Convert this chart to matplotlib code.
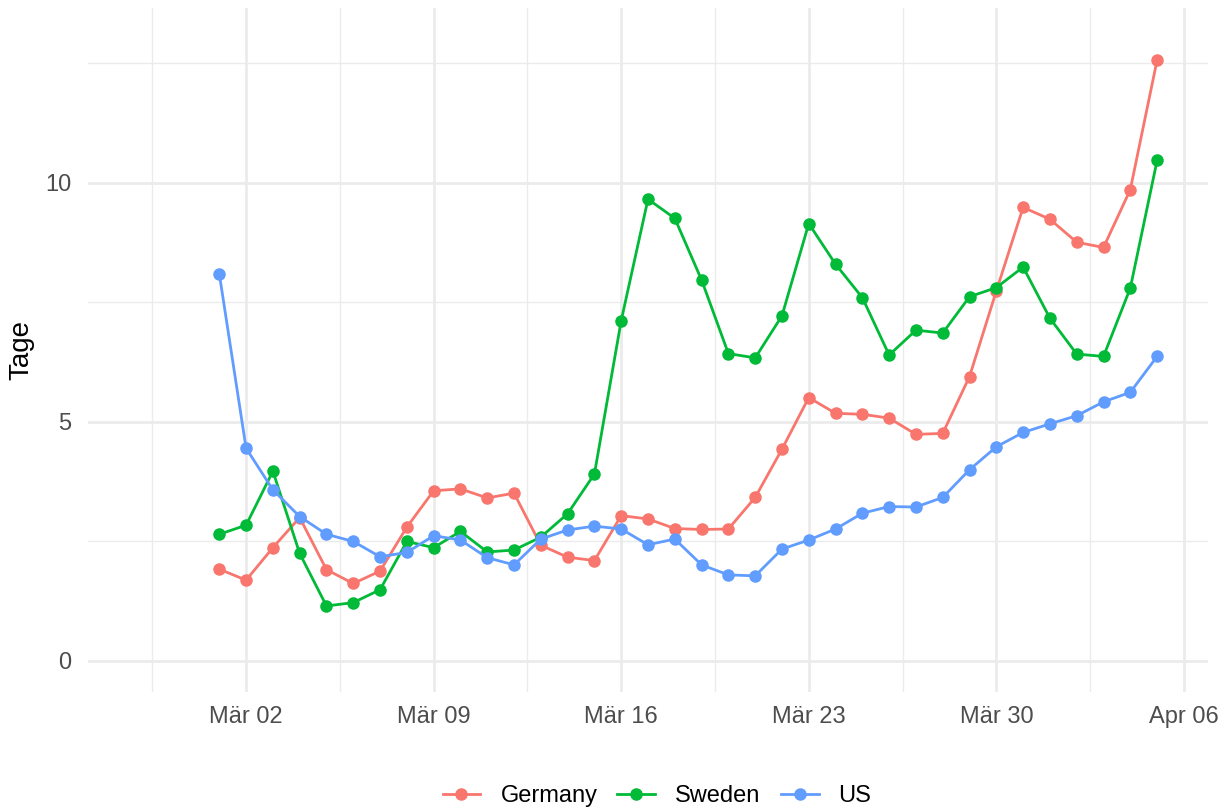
import numpy as np
import pandas as pd
import matplotlib
matplotlib.use("Agg")
import matplotlib.pyplot as plt
import matplotlib.dates as mdates

plt.rcParams['font.family'] = ['Liberation Sans', 'DejaVu Sans']

# data: days from 2020-03-01 to 2020-04-05
dates = pd.date_range("2020-03-01", "2020-04-05", freq="D")

germany = [1.92, 1.69, 2.37, 3.00, 1.91, 1.62, 1.88, 2.80, 3.56, 3.60,
           3.41, 3.51, 2.42, 2.17, 2.10, 3.04, 2.97, 2.77, 2.75, 2.76,
           3.42, 4.43, 5.51, 5.18, 5.16, 5.08, 4.74, 4.76, 5.95, 7.74,
           9.49, 9.24, 8.76, 8.65, 9.86, 12.57]
sweden = [2.65, 2.84, 3.97, 2.25, 1.15, 1.22, 1.49, 2.50, 2.37, 2.71,
          2.28, 2.32, 2.59, 3.08, 3.91, 7.12, 9.66, 9.26, 7.97, 6.43,
          6.34, 7.22, 9.15, 8.30, 7.60, 6.40, 6.92, 6.86, 7.62, 7.81,
          8.24, 7.17, 6.42, 6.37, 7.80, 10.47]
us = [8.10, 4.45, 3.58, 3.02, 2.65, 2.50, 2.18, 2.27, 2.62, 2.53,
      2.16, 2.01, 2.55, 2.74, 2.82, 2.76, 2.43, 2.55, 2.01, 1.80,
      1.78, 2.34, 2.53, 2.76, 3.09, 3.23, 3.22, 3.42, 4.00, 4.48,
      4.78, 4.96, 5.13, 5.42, 5.62, 6.37]

series = [("Germany", germany, "#F8766D"),
          ("Sweden", sweden, "#00BA38"),
          ("US", us, "#619CFF")]

major_dates = pd.to_datetime(["2020-03-02", "2020-03-09", "2020-03-16",
                              "2020-03-23", "2020-03-30", "2020-04-06"])
major_labels = ["Mär 02", "Mär 09", "Mär 16", "Mär 23", "Mär 30", "Apr 06"]

fig = plt.figure(figsize=(12.27, 8.10), dpi=100)
W, H = 1227, 810
ax = fig.add_axes([88 / W, (H - 692) / H, (1208 - 88) / W, (692 - 8) / H])

for name, vals, col in series:
    ax.plot(dates, vals, color=col, linewidth=2.0, marker='o', markersize=8,
            label=name, zorder=3)

# grid (ggplot theme_minimal look)
minor_dates = [major_dates[0] - pd.Timedelta(days=3.5)] + \
              [d + pd.Timedelta(days=3.5) for d in major_dates[:-1]]
ax.set_xticks(major_dates)
ax.set_xticklabels(major_labels)
ax.set_xticks(minor_dates, minor=True)
ax.set_yticks([0, 5, 10])
ax.set_yticks([2.5, 7.5, 12.5], minor=True)
ax.grid(which='major', color='#EBEBEB', linewidth=2.0, zorder=0)
ax.grid(which='minor', color='#EBEBEB', linewidth=1.0, zorder=0)
ax.set_axisbelow(True)

x0 = mdates.date2num(pd.Timestamp("2020-03-01"))
ax.set_xlim(x0 - 4.9, x0 + 36.9)
ax.set_ylim(-0.65, 13.66)

for s in ax.spines.values():
    s.set_visible(False)
ax.tick_params(which='both', length=0)
ax.tick_params(axis='x', labelsize=17, labelcolor='#4D4D4D', pad=10)
ax.tick_params(axis='y', labelsize=17, labelcolor='#4D4D4D', pad=12)
ax.set_ylabel("Tage", fontsize=20, labelpad=8)

fig.legend(loc='center', bbox_to_anchor=(657 / W, 14 / H), ncol=3, frameon=False,
           fontsize=17, handlelength=1.6, handletextpad=0.85, columnspacing=0.85)

fig.savefig("out.png", dpi=100)
